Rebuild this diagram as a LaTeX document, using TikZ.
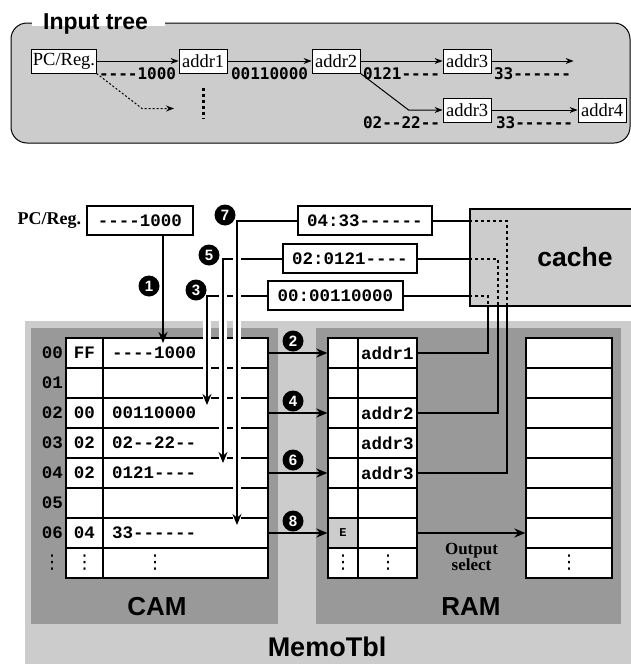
\documentclass[tikz,border=0pt]{standalone}
\usepackage{fontspec}
\setmainfont{Liberation Serif}
\setsansfont{Liberation Sans}
\setmonofont[Ligatures=TeXOff]{Liberation Mono}
\newfontfamily\labelfont[Ligatures=TeXOff]{DejaVu Sans Mono}
\newfontfamily\symfont{DejaVu Sans}
\usepackage{xcolor}
\usepackage{tikz}
\definecolor{memogray}{RGB}{204,204,204}
\definecolor{tblgray}{RGB}{153,153,153}
\usetikzlibrary{positioning,arrows.meta,calc}

\begin{document}
\begin{tikzpicture}[
    x=1pt, y=-1pt,
    treebox/.style={rectangle, draw=black, fill=white, line width=1pt, font=\fontsize{18.5}{20}\selectfont, inner xsep=1pt, inner ysep=0pt, minimum height=24pt, minimum width=48pt},
    treearrow/.style={-{Stealth[length=8pt,width=6pt]}, line width=1pt},
    treelabel/.style={font=\labelfont\bfseries\fontsize{16}{16}\selectfont, inner sep=0pt},
    keybox/.style={rectangle, draw=black, fill=white, line width=1.2pt, font=\ttfamily\bfseries\fontsize{17.5}{18}\selectfont, minimum height=29pt, inner sep=0pt},
    stepdot/.style={circle, fill=black, text=white, font=\sffamily\bfseries\fontsize{15}{15}\selectfont, minimum size=21pt, inner sep=0pt},
    arrow/.style={-{Stealth[length=11pt,width=9pt]}, line width=2pt},
    halo/.style={preaction={draw=white, line width=8pt, -, shorten <=1pt}},
    link/.style={line width=2pt},
    dotlink/.style={line width=2pt, dash pattern=on 3pt off 3pt},
    tblrow/.style={rectangle, draw=black, fill=white, line width=1.2pt, minimum height=30pt, inner sep=0pt},
    celltext/.style={font=\ttfamily\bfseries\fontsize{17.5}{18}\selectfont, inner sep=0pt},
    vdotstext/.style={font=\symfont\fontsize{19}{19}\selectfont, inner sep=0pt},
    paneltitle/.style={font=\sffamily\bfseries\fontsize{26}{26}\selectfont, inner sep=0pt},
]
\useasboundingbox (0,0) rectangle (631,664);

% Input tree frame
\draw[line width=1pt, fill=memogray, rounded corners=16pt] (11,23) rectangle (630,143);
\fill[white] (32,20) rectangle (165,25.5);
\node[font=\sffamily\bfseries\fontsize{23}{23}\selectfont, inner sep=0pt, anchor=base west] (treetitle) at (43,29) {Input tree};

% Input tree nodes
\node (pcreg) [treebox] at (64,61) {PC/Reg.};
\node (addr1) [treebox, right=82pt of pcreg] {addr1};
\node (addr2) [treebox, right=84pt of addr1] {addr2};
\node (addr3a) [treebox, right=82pt of addr2] {addr3};
\node (addr3b) [treebox, below=24pt of addr3a] {addr3};
\node (addr4) [treebox, right=86pt of addr3b] {addr4};
\coordinate[right=82pt of addr3a] (end3a);
\coordinate (more) at (174,108.5);

% Input tree arrows
\draw[treearrow] (pcreg) -- node[treelabel, below=6pt] (lbl1) {----1000} (addr1);
\draw[treearrow] (addr1) -- node[treelabel, below=6pt] (lbl2) {00110000} (addr2);
\draw[treearrow] (addr2) -- node[treelabel, below=6pt] (lbl3) {0121----} (addr3a);
\draw[treearrow] (addr3a) -- node[treelabel, below=6pt] (lbl5) {33------} (end3a);
\draw[treearrow] (addr2.south east) -- ([xshift=-34pt]addr3b.west) -- (addr3b.west);
\path (addr2.east |- addr3b) -- node[treelabel, below=6pt] (lbl4) {02--22--} (addr3b.west);
\draw[treearrow] (addr3b) -- node[treelabel, below=6pt] (lbl6) {33------} (addr4);
\draw[treearrow, dash pattern=on 2pt off 2pt] (pcreg.south east) -- ([xshift=-32pt]more) -- (more);
\draw[line width=3pt, dash pattern=on 3pt off 3pt] ([yshift=-14pt]addr1.south) -- ++(0,31);

% MemoTbl panels
\fill[memogray] (25,321) rectangle (640,670);
\fill[tblgray] (31,328) rectangle (278,624);
\fill[tblgray] (316,328) rectangle (621,624);
\node (camtitle) [paneltitle] at (157,607) {CAM};
\node (ramtitle) [paneltitle] at (471,607) {RAM};
\node (memotitle) [paneltitle, font=\sffamily\bfseries\fontsize{27}{27}\selectfont] at (327,647) {MemoTbl};

% Tables
\foreach \i in {0,...,7} {
  \node (cam\i) [tblrow, minimum width=202pt] at (167,{353+30*\i}) {};
  \node (ramA\i) [tblrow, minimum width=89pt] at (372.5,{353+30*\i}) {};
  \node (ramB\i) [tblrow, minimum width=86pt] at (569,{353+30*\i}) {};
}
\draw[line width=1.2pt] (103,338) -- (103,578);
\draw[line width=1.2pt] (358,338) -- (358,578);
\filldraw[fill=memogray, line width=1.2pt] (328,518) rectangle (358,548);

% Table contents
\foreach \i in {0,...,6}
  \node (lab\i) [celltext, anchor=east] at (63,{353+30*\i}) {0\i};
\foreach \i/\k/\d in {0/FF/----1000, 2/00/00110000, 3/02/02--22--, 4/02/0121----, 6/04/33------} {
  \node (camk\i) [celltext] at (84.5,{353+30*\i}) {\k};
  \node (camd\i) [celltext, anchor=west] at (112,{353+30*\i}) {\d};
}
\foreach \i/\a in {0/addr1, 2/addr2, 3/addr3, 4/addr3}
  \node (rama\i) [celltext, anchor=west] at (361,{353+30*\i}) {\a};
\node (ebit) [celltext, font=\ttfamily\bfseries\fontsize{12}{12}\selectfont] at (343,533) {E};
\foreach \x/\n in {52/a, 84.5/b, 155/c, 343/d, 388/e, 569/f}
  \node (dots\n) [vdotstext] at (\x,563) {⋮};

% Cache and keys
\node (cache) [rectangle, draw=black, line width=1.2pt, fill=memogray, minimum width=210pt, minimum height=97pt, font=\sffamily\bfseries\fontsize{26.5}{26.5}\selectfont] at (575,257.5) {cache};
\node (keypc) [keybox, minimum width=106pt] at (140,220.5) {----1000};
\node (pclabel) [left=5pt of keypc, inner sep=0pt, font=\bfseries\fontsize{18}{18}\selectfont] {PC/Reg.};
\node (key04) [keybox, minimum width=134pt] at (365,220.5) {04:33------};
\node (key02) [keybox, minimum width=134pt] at (350,258.5) {02:0121----};
\node (key00) [keybox, minimum width=135pt] at (335.5,295.5) {00:00110000};

\coordinate (drop0) at (488,306);
\coordinate (drop2) at (497.5,306);
\coordinate (drop4) at (507,306);
\coordinate (tip1) at (163,343);
\coordinate (tip3) at (207,405);
\coordinate (tip5) at (223,463);
\coordinate (tip7) at (237,525);

% Cache hits back to RAM
\draw[link] (key00.east) -- (key00.east -| cache.west);
\draw[dotlink] (key00.east -| cache.west) -| (drop0);
\draw[link] (drop0) |- (ramA0.east);
\draw[link] (key02.east) -- (key02.east -| cache.west);
\draw[dotlink] (key02.east -| cache.west) -| (drop2);
\draw[link] (drop2) |- (ramA2.east);
\draw[link] (key04.east) -- (key04.east -| cache.west);
\draw[dotlink] (key04.east -| cache.west) -| (drop4);
\draw[link] (drop4) |- (ramA4.east);

% CAM to RAM
\draw[arrow] (cam0.east) -- (ramA0.west);
\draw[arrow] (cam2.east) -- (ramA2.west);
\draw[arrow] (cam4.east) -- (ramA4.west);
\draw[arrow] (cam6.east) -- (ramA6.west);
\draw[arrow] (ramA6.east) -- node[below=9pt, inner sep=0pt, align=center, font=\bfseries\fontsize{17}{16.5}\selectfont] (outsel) {Output\\select} (ramB6.west);

% Search keys into CAM
\draw[arrow] (tip1 |- keypc.south) -- (tip1);
\draw[arrow, halo] (key00.west) -| (tip3);
\draw[arrow, halo] (key02.west) -| (tip5);
\draw[arrow, halo] (key04.west) -| (tip7);

% Steps
\node (s1) [stepdot] at (149,286) {1};
\node (s2) [stepdot] at (293,341) {2};
\node (s3) [stepdot] at (196,290) {3};
\node (s4) [stepdot] at (293,401) {4};
\node (s5) [stepdot] at (209,255) {5};
\node (s6) [stepdot] at (293,460) {6};
\node (s7) [stepdot] at (225,215) {7};
\node (s8) [stepdot] at (293,521) {8};

\end{tikzpicture}
\end{document}
